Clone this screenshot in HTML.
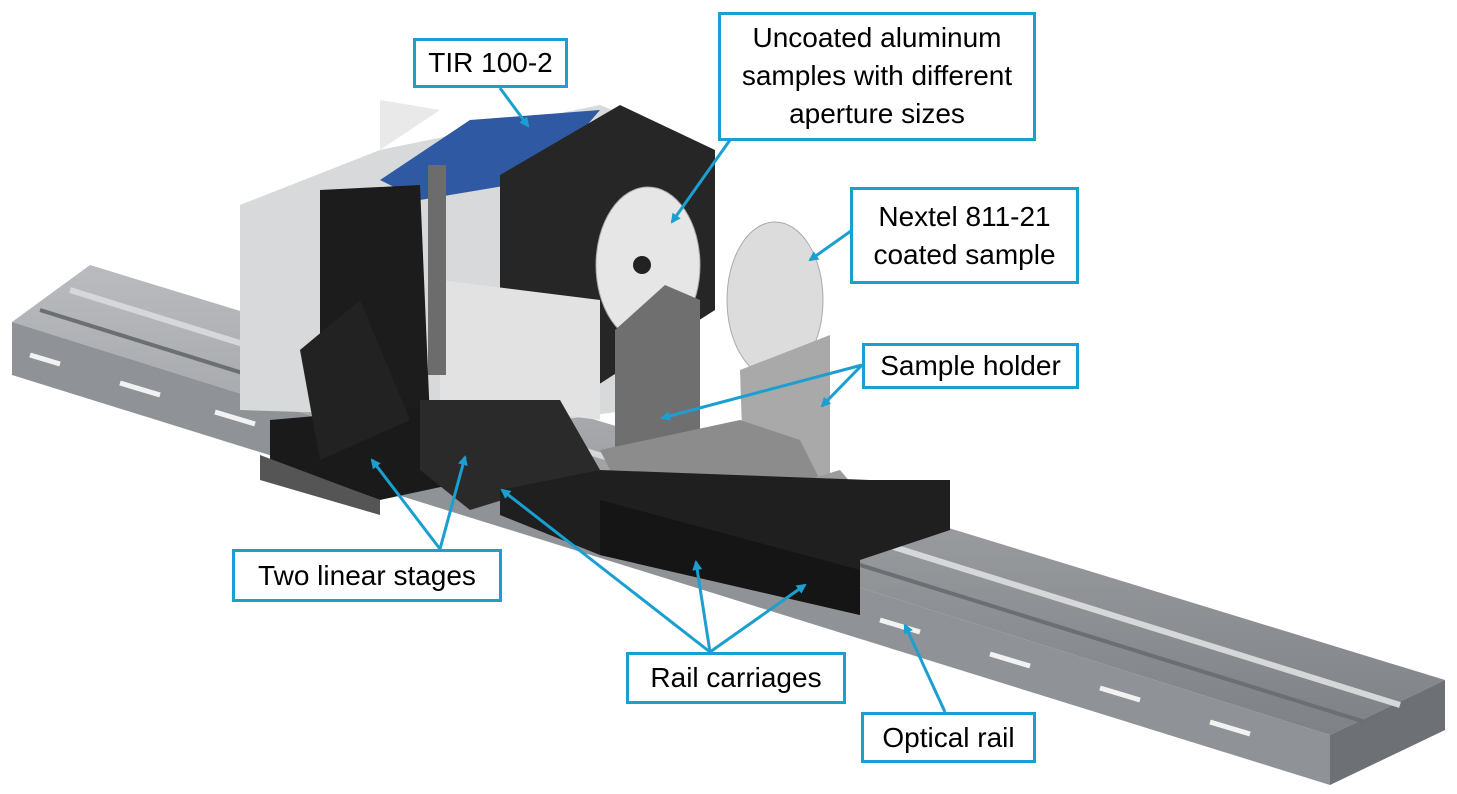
<!DOCTYPE html>
<html><head><meta charset="utf-8"><style>
html,body{margin:0;padding:0;background:#fff;}
.lbl{position:absolute;border:3px solid #1a9fd0;background:#fff;font-family:"Liberation Sans",Arial,sans-serif;font-size:28px;color:#000;text-align:center;line-height:38px;box-sizing:border-box;}
</style></head><body>
<div style="position:relative;width:1457px;height:794px;overflow:hidden;">
<svg width="1457" height="794" style="position:absolute;left:0;top:0">
<defs>
<linearGradient id="rail" x1="0" y1="0" x2="0" y2="1"><stop offset="0" stop-color="#b9bbbe"/><stop offset="1" stop-color="#7e8185"/></linearGradient>
<marker id="ah" markerWidth="10" markerHeight="10" refX="8" refY="5" orient="auto" markerUnits="userSpaceOnUse"><path d="M0,0 L10,5 L0,10 z" fill="#1a9fd0"/></marker>
</defs>
<polygon points="90,265 1445,680 1330,735 12,322" fill="url(#rail)"/>
<polygon points="12,322 1330,735 1330,785 12,375" fill="#8f9296"/>
<polygon points="1330,735 1445,680 1445,730 1330,785" fill="#6d7074"/>
<polyline points="70,290 1400,705" stroke="#d6d7d9" stroke-width="6" fill="none"/>
<polyline points="40,310 1365,722" stroke="#6b6e72" stroke-width="4" fill="none"/>
<g stroke="#f2f2f2" stroke-width="5">
<line x1="30" y1="355" x2="60" y2="364"/><line x1="120" y1="383" x2="160" y2="395"/><line x1="215" y1="412" x2="255" y2="424"/>
<line x1="560" y1="520" x2="600" y2="532"/><line x1="660" y1="551" x2="700" y2="563"/><line x1="880" y1="620" x2="920" y2="632"/>
<line x1="990" y1="654" x2="1030" y2="666"/><line x1="1100" y1="688" x2="1140" y2="700"/><line x1="1210" y1="722" x2="1250" y2="734"/>
</g>
<polygon points="240,205 380,150 600,105 700,145 700,400 560,420 240,410" fill="#d8d9db"/>
<polygon points="380,180 470,120 600,110 540,180 420,200" fill="#2f5aa3"/>
<polygon points="380,100 440,110 380,150" fill="#e9e9ea"/>
<polygon points="500,175 620,105 715,150 715,310 590,390 500,360" fill="#262626"/>
<polygon points="440,280 600,300 600,420 440,400" fill="#e2e2e3"/>
<polygon points="320,190 420,185 430,420 320,430" fill="#1c1c1c"/>
<polygon points="270,420 500,400 520,470 380,500 270,460" fill="#1a1a1a"/>
<polygon points="260,455 380,500 380,515 260,480" fill="#555"/>
<polygon points="300,350 360,300 410,420 320,460" fill="#222"/>
<rect x="428" y="165" width="18" height="210" fill="#6c6c6c"/>
<polygon points="420,400 560,400 600,470 470,510 420,470" fill="#2a2a2a"/>
<ellipse cx="648" cy="265" rx="52" ry="78" fill="#e6e6e6" stroke="#aaa"/>
<circle cx="642" cy="265" r="9" fill="#222"/>
<ellipse cx="775" cy="300" rx="48" ry="78" fill="#dcdcdc" stroke="#aaa"/>
<polygon points="615,330 665,285 700,300 700,490 615,470" fill="#6f6f6f"/>
<polygon points="740,370 830,335 830,490 745,520" fill="#a9a9a9"/>
<polygon points="600,450 740,420 800,440 820,480 690,510 620,490" fill="#8c8c8c"/>
<polygon points="740,500 840,470 870,505 860,540 760,540" fill="#9b9b9b"/>
<polygon points="500,490 600,470 870,480 950,480 950,530 860,560 860,615 600,555 500,515" fill="#1f1f1f"/>
<polygon points="600,500 860,570 860,615 600,555" fill="#151515"/>
</svg>
<svg width="1457" height="794" style="position:absolute;left:0;top:0" fill="none" stroke="#1a9fd0" stroke-width="3">
<defs><marker id="ah2" markerWidth="10" markerHeight="10" refX="8" refY="5" orient="auto" markerUnits="userSpaceOnUse"><path d="M0,0 L10,5 L0,10 z" fill="#1a9fd0" stroke="none"/></marker></defs>
<line x1="500" y1="88" x2="528" y2="126" marker-end="url(#ah2)"/>
<line x1="730" y1="140" x2="672" y2="222" marker-end="url(#ah2)"/>
<line x1="858" y1="226" x2="810" y2="260" marker-end="url(#ah2)"/>
<line x1="862" y1="365" x2="662" y2="418" marker-end="url(#ah2)"/>
<line x1="862" y1="365" x2="822" y2="406" marker-end="url(#ah2)"/>
<line x1="440" y1="549" x2="372" y2="460" marker-end="url(#ah2)"/>
<line x1="440" y1="549" x2="465" y2="457" marker-end="url(#ah2)"/>
<line x1="710" y1="652" x2="502" y2="490" marker-end="url(#ah2)"/>
<line x1="710" y1="652" x2="696" y2="562" marker-end="url(#ah2)"/>
<line x1="710" y1="652" x2="805" y2="585" marker-end="url(#ah2)"/>
<line x1="945" y1="712" x2="905" y2="625" marker-end="url(#ah2)"/>
</svg>
<div class="lbl" style="left:413px;top:38px;width:155px;height:50px;line-height:44px">TIR 100-2</div>
<div class="lbl" style="left:718px;top:12px;width:318px;height:129px;padding-top:4px">Uncoated aluminum<br>samples with different<br>aperture sizes</div>
<div class="lbl" style="left:850px;top:187px;width:229px;height:97px;padding-top:8px">Nextel 811-21<br>coated sample</div>
<div class="lbl" style="left:862px;top:343px;width:217px;height:46px;line-height:40px">Sample holder</div>
<div class="lbl" style="left:232px;top:549px;width:270px;height:53px;line-height:47px">Two linear stages</div>
<div class="lbl" style="left:626px;top:652px;width:220px;height:52px;line-height:46px">Rail carriages</div>
<div class="lbl" style="left:861px;top:712px;width:175px;height:51px;line-height:45px">Optical rail</div>
</div>
</body></html>
